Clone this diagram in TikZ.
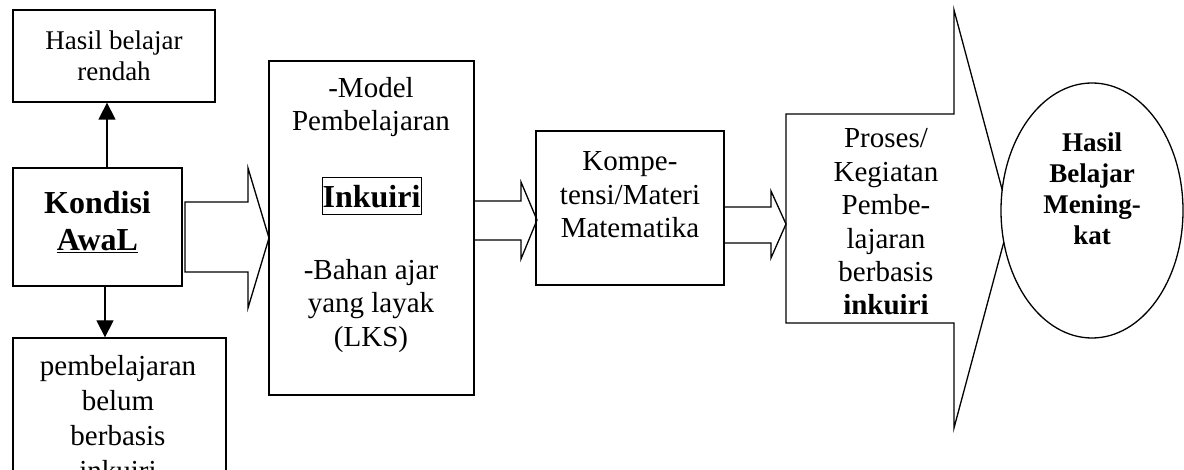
\documentclass[tikz,border=0pt]{standalone}
\usepackage{fontspec}
\setmainfont{Liberation Serif}
\usetikzlibrary{arrows.meta,shapes.geometric}
\begin{document}
\begin{tikzpicture}[x=1pt,y=-1pt,line width=1.3pt,line join=miter,
  box/.style={draw,rectangle,inner sep=0pt},
  txt/.style={align=center,inner sep=0pt},
  fsmall/.style={font=\fontsize{27}{31.5}\selectfont},
  fmain/.style={font=\fontsize{29}{33.4}\selectfont},
  fbig/.style={font=\bfseries\fontsize{32}{37}\selectfont},
  fsmallb/.style={font=\bfseries\fontsize{27}{31}\selectfont},
  arr/.style={-{Triangle[length=17pt,width=17pt]}},
  blockarrow/.style={draw,line width=1.3pt}]
\useasboundingbox (0,0) rectangle (1184,470);
\clip (0,0) rectangle (1184,470);

% left column
\node[box,minimum width=202,minimum height=92,fsmall,txt] (hasil) at (114,56) {Hasil belajar\\rendah};
\node[box,minimum width=169,minimum height=118] (kondisi) at (97.5,227) {};
\node[txt,fbig] (kondisiT) at (97.5,222) {Kondisi\\\underline{AwaL}};
\node[box,minimum width=213,minimum height=160] (pemb) at (119.5,418) {};
\node[txt,font=\fontsize{29}{35}\selectfont] (pembT) at (118,418.5) {pembelajaran\\belum\\berbasis\\inkuiri};

\draw[arr] ([xshift=9.5]kondisi.north) -- ([xshift=-7]hasil.south);
\draw[arr] ([xshift=7.5]kondisi.south) -- ([xshift=-14.5]pemb.north);

% block arrow 1
\draw[blockarrow] (185,202) -- (248,202) -- (248,168) -- (269,238) -- (248,308) -- (248,272) -- (185,272) -- cycle;

% main box
\node[box,minimum width=205,minimum height=334] (model) at (371.5,228) {};
\node[txt,fmain] (modelT1) at (371,107) {-Model\\Pembelajaran};
\node[draw,line width=1pt,inner sep=0pt,minimum width=99,minimum height=37,fbig] (ink) at (371.5,196.5) {Inkuiri};
\node[txt,fmain] (modelT2) at (371,306) {-Bahan ajar\\yang layak\\(LKS)};

% block arrow 2
\draw[blockarrow] (474,201) -- (521,201) -- (521,182) -- (537,220) -- (521,259) -- (521,240) -- (474,240) -- cycle;

% kompetensi
\node[box,minimum width=188,minimum height=154] (komp) at (630,208) {};
\node[txt,fmain] (kompT) at (630,195) {Kompe-\\tensi/Materi\\Matematika};

% block arrow 3
\draw[blockarrow] (724,207) -- (771,207) -- (771,191) -- (786,224) -- (771,258) -- (771,243) -- (724,243) -- cycle;

% big arrow
\draw[blockarrow] (786,114) -- (954,114) -- (954,10) -- (1010,219) -- (954,428) -- (954,323) -- (786,323) -- cycle;
\node[txt,fmain] (proses) at (886,222) {Proses/\\Kegiatan\\Pembe-\\lajaran\\berbasis\\\textbf{inkuiri}};

% ellipse
\node[draw,ellipse,fill=white,inner sep=0pt,minimum width=182,minimum height=255] (hasilB) at (1092,210.5) {};
\node[txt,fsmallb] (hasilBT) at (1092,189) {Hasil\\Belajar\\Mening-\\kat};
\end{tikzpicture}
\end{document}
